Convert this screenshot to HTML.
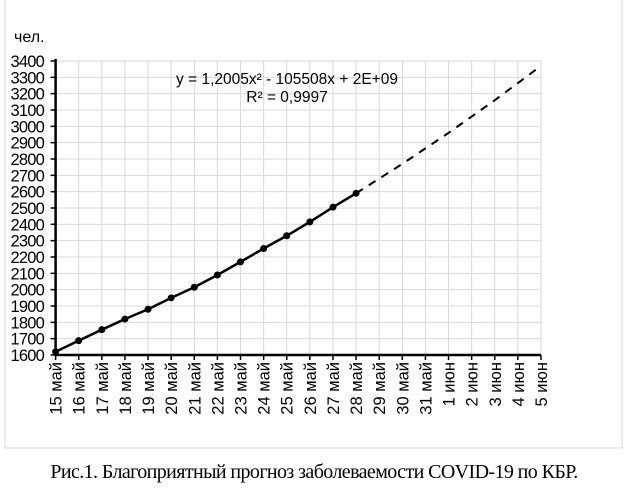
<!DOCTYPE html>
<html><head><meta charset="utf-8"><style>
body{margin:0;background:#fff;}
svg{display:block;font-family:"Liberation Sans",sans-serif;}
</style></head><body>
<svg width="628" height="502" viewBox="0 0 628 502">
<rect x="5" y="-2" width="617" height="450" fill="#fff" stroke="#d9d9d9" stroke-width="1"/>
<g id="grid"></g>
<g id="axes"></g>
<g id="series"></g>
<text x="14" y="42" font-size="16">чел.</text>
<text x="287" y="84" font-size="15.5" text-anchor="middle">y = 1,2005x² - 105508x + 2E+09</text>
<text x="287" y="102" font-size="15.5" text-anchor="middle">R² = 0,9997</text>
<text x="314" y="478" font-size="20" font-family="Liberation Serif, serif" text-anchor="middle" letter-spacing="-0.6">Рис.1. Благоприятный прогноз заболеваемости COVID-19 по КБР.</text>
</svg>
<script>
const categories=["15 май","16 май","17 май","18 май","19 май","20 май","21 май","22 май","23 май","24 май","25 май","26 май","27 май","28 май","29 май","30 май","31 май","1 июн","2 июн","3 июн","4 июн","5 июн"];
const actual=[1620,1688,1755,1820,1880,1950,2015,2090,2170,2252,2330,2415,2505,2590];
const forecast=[null,null,null,null,null,null,null,null,null,null,null,null,null,2590,2680,2770,2865,2960,3060,3160,3265,3370];
const yTicks=[1600,1700,1800,1900,2000,2100,2200,2300,2400,2500,2600,2700,2800,2900,3000,3100,3200,3300,3400];
const NS="http://www.w3.org/2000/svg";
const x0=55.6,x1=541,y0=355,y1=61,ymin=1600,ymax=3400;
const xs=i=>x0+i*(x1-x0)/(categories.length-1);
const ys=v=>y0-(v-ymin)/(ymax-ymin)*(y0-y1);
function mk(t,a,p){const e=document.createElementNS(NS,t);for(const k in a)e.setAttribute(k,a[k]);p.appendChild(e);return e;}
const grid=document.getElementById('grid'),axes=document.getElementById('axes'),ser=document.getElementById('series');
yTicks.forEach(v=>{
 const l=mk('line',{x1:x0,x2:x1,y1:ys(v),y2:ys(v),stroke:'#d9d9d9'},grid);
 
 
 const t=mk('text',{x:44,y:ys(v)+6,'font-size':16.5,'text-anchor':'end','letter-spacing':'-0.8'},axes);
 t.textContent=v;
 
 
 const tk=mk('line',{x1:x0-5,x2:x0,y1:ys(v),y2:ys(v),stroke:'#000','stroke-width':1.5},axes);
 
 
});
categories.forEach((c,i)=>{
 const x=xs(i);
 const l=mk('line',{x1:x,x2:x,y1:y1,y2:y0,stroke:'#d9d9d9'},grid);
 
 
 const tk=mk('line',{x1:x,x2:x,y1:y0,y2:y0+5,stroke:'#000','stroke-width':1.5},axes);
 
 
 const t=mk('text',{x:0,y:0,'font-size':16.5,'text-anchor':'end',transform:`translate(${x+6},${y0+7}) rotate(-90)`},axes);
 t.textContent=c;
 
 
});
const ya=mk('line',{x1:x0,x2:x0,y1:y1-2,y2:y0,stroke:'#000','stroke-width':2.5},axes);


const xa=mk('line',{x1:x0,x2:x1,y1:y0,y2:y0,stroke:'#000','stroke-width':2.5},axes);


let fp=[];forecast.forEach((v,i)=>{if(v!=null)fp.push(xs(i)+','+ys(v));});
const fl=mk('polyline',{points:fp.join(' '),fill:'none',stroke:'#000','stroke-width':2,'stroke-dasharray':'8,7'},ser);


const al=mk('polyline',{points:actual.map((v,i)=>xs(i)+','+ys(v)).join(' '),fill:'none',stroke:'#000','stroke-width':2.5},ser);


actual.forEach((v,i)=>{
 const c=mk('circle',{cx:xs(i),cy:ys(v),r:3.5,fill:'#000'},ser);
 
 
});
</script>
</body></html>
